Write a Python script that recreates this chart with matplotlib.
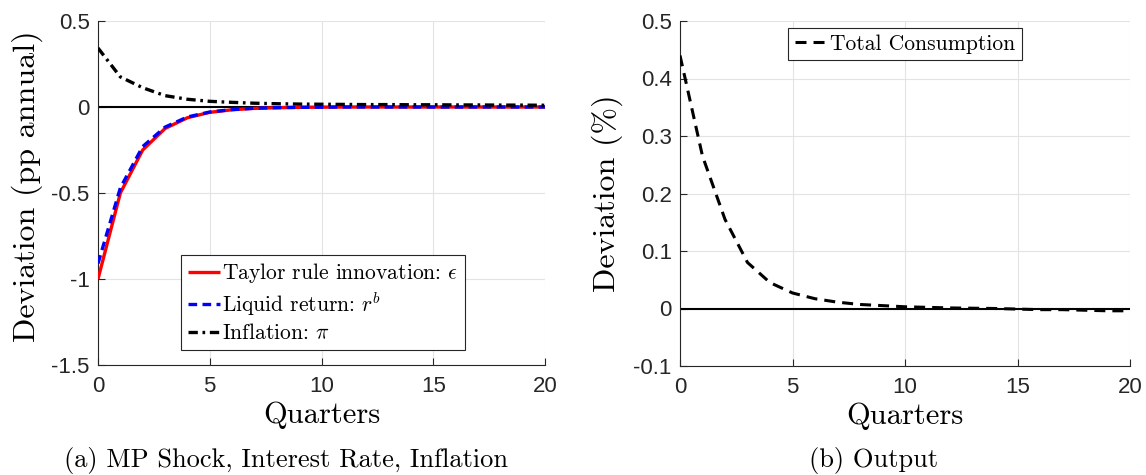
import matplotlib
matplotlib.use("Agg")
import matplotlib.pyplot as plt
from matplotlib.ticker import FixedLocator, FixedFormatter

plt.rcParams['mathtext.fontset'] = 'cm'
plt.rcParams['axes.unicode_minus'] = False
plt.rcParams['axes.formatter.use_mathtext'] = True

quarters = list(range(21))
taylor_eps = [-1.0, -0.5, -0.25, -0.125, -0.0625, -0.031, -0.016, -0.008, -0.004, -0.002,
              -0.001, 0, 0, 0, 0, 0, 0, 0, 0, 0, 0]
liquid_rb = [-0.91, -0.47, -0.23, -0.117, -0.058, -0.029, -0.015, -0.007, -0.004, -0.002,
             -0.001, 0, 0, 0, 0, 0, 0, 0, 0, 0, 0]
inflation = [0.343, 0.175, 0.112, 0.066, 0.045, 0.033, 0.027, 0.022, 0.019, 0.017,
             0.016, 0.015, 0.014, 0.014, 0.013, 0.013, 0.012, 0.012, 0.011, 0.011, 0.010]
consumption = [0.44, 0.265, 0.155, 0.08, 0.045, 0.027, 0.017, 0.011, 0.007, 0.005,
               0.003, 0.002, 0.001, 0.0005, 0.0, -0.001, -0.002, -0.002, -0.003, -0.004, -0.004]

xticks = [0, 5, 10, 15, 20]
xticklabels = ['0', '5', '10', '15', '20']
yticks_a = [-1.5, -1, -0.5, 0, 0.5]
yticklabels_a = ['-1.5', '-1', '-0.5', '0', '0.5']
yticks_b = [-0.1, 0, 0.1, 0.2, 0.3, 0.4, 0.5]
yticklabels_b = ['-0.1', '0', '0.1', '0.2', '0.3', '0.4', '0.5']

SERIF = 'cmr10'
TICKFONT = 'Liberation Sans'

fig = plt.figure(figsize=(11.46, 4.75), dpi=100)
W, H = 1146, 475
axA = fig.add_axes([98 / W, 1 - 365 / H, 447 / W, 344 / H])
axB = fig.add_axes([680 / W, 1 - 366 / H, 450 / W, 345 / H])

def style(ax, yticks, yticklabels, ylim):
    ax.set_xlim(0, 20)
    ax.set_ylim(*ylim)
    ax.xaxis.set_major_locator(FixedLocator(xticks))
    ax.xaxis.set_major_formatter(FixedFormatter(xticklabels))
    ax.yaxis.set_major_locator(FixedLocator(yticks))
    ax.yaxis.set_major_formatter(FixedFormatter(yticklabels))
    ax.grid(True, color='#e3e3e3', linewidth=0.8)
    ax.set_axisbelow(True)
    for s in ['top', 'right']:
        ax.spines[s].set_visible(False)
    for s in ['left', 'bottom']:
        ax.spines[s].set_color('#262626')
        ax.spines[s].set_linewidth(0.8)
    ax.tick_params(direction='in', length=5, width=0.8, color='#262626',
                   labelsize=16, labelcolor='#262626')
    ax.tick_params(axis='x', pad=8)
    ax.tick_params(axis='y', pad=6)
    for lab in ax.get_xticklabels() + ax.get_yticklabels():
        lab.set_fontfamily(TICKFONT)
    ax.axhline(0, color='black', linewidth=1.5, zorder=1.5)

style(axA, yticks_a, yticklabels_a, (-1.5, 0.5))
style(axB, yticks_b, yticklabels_b, (-0.1, 0.5))

# Panel A
axA.plot(quarters, taylor_eps, color='#ff0000', linewidth=2.4, solid_capstyle='butt',
         label=r'Taylor rule innovation: $\epsilon$', zorder=3)
axA.plot(quarters, liquid_rb, color='#0000ff', linewidth=2.4, dashes=(2.6, 1.6),
         label=r'Liquid return: $r^b$', zorder=3)
axA.plot(quarters, inflation, color='black', linewidth=2.4, dashes=(2.8, 1.4, 0.8, 1.4),
         label=r'Inflation: $\pi$', zorder=3)

legA = axA.legend(loc='lower left', bbox_to_anchor=(0.186, 0.044), borderaxespad=0,
                  prop={'family': SERIF, 'size': 15.5}, handlelength=1.5, handletextpad=0.1,
                  borderpad=0.3, labelspacing=0.25, fancybox=False, framealpha=1,
                  edgecolor='#262626')
legA.get_frame().set_linewidth(0.8)

axA.set_xlabel('Quarters', fontfamily=SERIF, fontsize=22, va='top')
axA.xaxis.set_label_coords(0.5, -0.105)
axA.set_ylabel('Deviation (pp annual)', fontfamily=SERIF, fontsize=23, va='center')
axA.yaxis.set_label_coords(-0.159, 0.52)

# Panel B
axB.plot(quarters, consumption, color='black', linewidth=2.2, dashes=(3.6, 2.3),
         label='Total Consumption', zorder=3)
legB = axB.legend(loc='upper center', bbox_to_anchor=(0.5, 0.98), borderaxespad=0,
                  prop={'family': SERIF, 'size': 15.5}, handlelength=1.55, handletextpad=0.1,
                  borderpad=0.3, fancybox=False, framealpha=1, edgecolor='#262626')
legB.get_frame().set_linewidth(0.8)

axB.set_xlabel('Quarters', fontfamily=SERIF, fontsize=22, va='top')
axB.xaxis.set_label_coords(0.5, -0.105)
axB.set_ylabel('Deviation (%)', fontfamily=SERIF, fontsize=23, va='center')
axB.yaxis.set_label_coords(-0.162, 0.5)

fig.text(0.25, 0.017, '(a) MP Shock, Interest Rate, Inflation', fontfamily=SERIF,
         fontsize=19, ha='center', va='baseline')
fig.text(0.762, 0.017, '(b) Output', fontfamily=SERIF, fontsize=19, ha='center',
         va='baseline')

fig.savefig('out.png', dpi=100)
